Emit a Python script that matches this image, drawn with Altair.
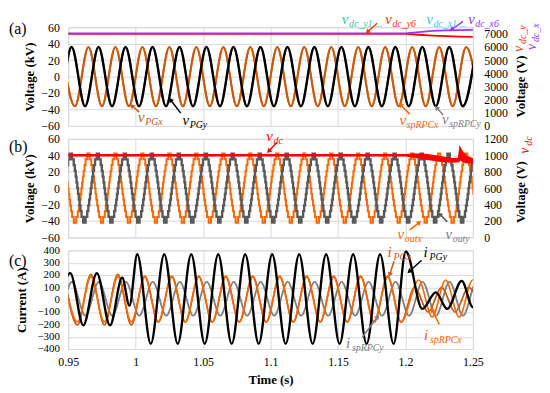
import math
import altair as alt
import pandas as pd

SERIF = "Liberation Serif"
T_START, T_END = 0.95, 1.25
X_TICKS = [0.95, 1.0, 1.05, 1.1, 1.15, 1.2, 1.25]
HALF = 0.01  # half period (50 Hz)

C_BROWN = "#c55a11"
C_ORANGE = "#ff6600"
C_GRAY = "#808080"
C_DGRAY = "#595959"
C_RED = "#ff0000"
C_RED2 = "#ff3300"
C_PURPLE = "#9933ff"
C_TEAL = "#33cc99"
C_CYAN = "#33ccff"

# ---------------- panel (a) data ----------------
VPG_PEAK, VPG_TROUGH = 36, -36
VPGX_FIRST_PEAK = 0.945
VPGY_FIRST_PEAK = 0.9325
VSP_PEAK, VSP_TROUGH = 6000, 1500          # right axis (V)
VDC_T = [0.95, 1.20, 1.21, 1.22, 1.23, 1.24, 1.25]
VDC_Y = [6990, 6990, 6930, 6870, 6820, 6790, 6770]
VDC_X = [7030, 7030, 7130, 7220, 7270, 7290, 7300]

# ---------------- panel (b) data ----------------
STEP_DEG = [0, 15.7, 38, 52, 64, 75, 85, 95, 105, 116, 128, 142, 164,
            196, 218, 232, 244, 255, 265, 275, 285, 296, 308, 322, 344]
STEP_LVL = [42, 35, 28, 21, 14, 7, 0, -7, -14, -21, -28, -35, -42,
            -35, -28, -21, -14, -7, 0, 7, 14, 21, 28, 35, 42]
VOUTX_FIRST_PEAK = 0.945
VOUTY_FIRST_PEAK = 0.932
VDCB_T = [0.95, 1.20, 1.205, 1.21, 1.215, 1.22, 1.225, 1.23, 1.235, 1.2395, 1.2405, 1.242, 1.245, 1.25]
VDCB_HI = [1004, 1004, 1008, 1010, 1005, 995, 982, 968, 955, 960, 1085, 1040, 985, 950]
VDCB_LO = [996, 996, 985, 972, 958, 945, 932, 925, 920, 925, 955, 935, 915, 905]

# ---------------- panel (c) data ----------------
IPGY_PRE = [(0.9415, -208), (0.9515, 215), (0.9612, -208), (0.9712, 215),
            (0.9810, -208), (0.9900, 179), (0.9954, -48)]
IPGY_MID = (1.0012, 1.1912, 368, -358)
IPGY_POST = [(1.2003, 392), (1.2125, -75), (1.2225, 59), (1.2310, -75),
             (1.2417, 152), (1.2500, -61), (1.2560, 40)]
IPGX_SEGS = [(0.9468, 0.9968, 205, -205), (1.0068, 1.1968, 190, -182), (1.2068, 1.2568, 100, -100)]
ISPX_SEGS = [(0.9468, 1.1968, 185, -180), (1.2098, 1.2598, 160, -141)]
ISPY_SEGS = [(0.9327, 1.2627, 145, -130)]


def alternating(first, last, pos, neg):
    n = int(round((last - first) / HALF))
    return [(round(first + k * HALF, 4), pos if k % 2 == 0 else neg) for k in range(n + 1)]


def segs(seg_list):
    pts = []
    for s in seg_list:
        pts += alternating(*s)
    return pts


def staircase(first_peak, n_cycles):
    pts = []
    for c in range(n_cycles):
        base = first_peak + c * 0.02
        for d, l in zip(STEP_DEG, STEP_LVL):
            pts.append((base + d / 360 * 0.02, l))
    return pts


def df(pts):
    return pd.DataFrame(pts, columns=["t", "v"])


XSCALE = alt.Scale(domain=[T_START, T_END], nice=False, zero=False)
AX_HIDDEN = alt.Axis(values=X_TICKS, labels=False, ticks=False, domain=False, title=None, grid=True)
AX_BOTTOM = alt.Axis(values=X_TICKS, format=".3~f", title="Time (s)", grid=True, labelFlush=False,
                     labelPadding=8, titlePadding=6)


def X(ax, field="t"):
    return alt.X(f"{field}:Q", scale=XSCALE, axis=ax)


def Y(spec, field="v"):
    return alt.Y(f"{field}:Q", scale=spec[0], axis=spec[1])


def line(data, yspec, color, width, ax, interp="monotone", field="v"):
    return alt.Chart(data).mark_line(color=color, strokeWidth=width, interpolate=interp, clip=True).encode(
        x=X(ax), y=Y(yspec, field))


def annotations(labels, arrows, yspec, ky, ax):
    lab = pd.DataFrame(labels, columns=["main", "sub", "col", "t", "v"])
    rows = []
    for col, tt, tv, ht, hv in arrows:
        dx = (ht - tt) * 410 / 0.3
        dy = -(hv - tv) * ky
        ang = math.degrees(math.atan2(dx, -dy)) % 360
        rows.append((col, tt, tv, ht, hv, ang))
    arr = pd.DataFrame(rows, columns=["col", "t", "v", "t2", "v2", "ang"])
    rule = alt.Chart(arr).mark_rule(strokeWidth=1.5).encode(
        x=X(ax), y=Y(yspec), x2="t2:Q", y2="v2:Q", color=alt.Color("col:N", scale=None))
    head = alt.Chart(arr).mark_point(shape="triangle", filled=True, size=30, opacity=1).encode(
        x=X(ax, "t2"), y=Y(yspec, "v2"),
        color=alt.Color("col:N", scale=None), angle=alt.Angle("ang:Q", scale=None))
    main = alt.Chart(lab).mark_text(font=SERIF, fontStyle="italic", fontSize=15, align="center",
                                    baseline="middle").encode(
        x=X(ax), y=Y(yspec), text="main:N", color=alt.Color("col:N", scale=None))
    sub = alt.Chart(lab).mark_text(font=SERIF, fontStyle="italic", fontSize=10, align="left",
                                   baseline="middle", dx=4, dy=5).encode(
        x=X(ax), y=Y(yspec), text="sub:N", color=alt.Color("col:N", scale=None))
    return [rule, head, main, sub]


ONE = pd.DataFrame({"a": [0]})


def ptext(txt, px, py, size, color="black", angle=0, align="center", style="normal", weight="normal"):
    return alt.Chart(ONE).mark_text(text=txt, font=SERIF, fontSize=size, color=color, angle=angle,
                                    align=align, baseline="middle", fontStyle=style,
                                    fontWeight=weight).encode(x=alt.value(px), y=alt.value(py))


# ---------------- panel (a) ----------------
YA = (alt.Scale(domain=[-60, 60], nice=False),
      alt.Axis(values=list(range(-60, 61, 20)), title="Voltage (kV)", grid=True,
               labelPadding=9, titlePadding=4))
YA_R = (alt.Scale(domain=[0, 7500], nice=False),
        alt.Axis(orient="right", values=list(range(0, 7001, 1000)), format="d", title=None, grid=False,
                 labelPadding=11))

LABELS_A = [
    ("v", "PGx", C_BROWN, 1.0041, -49.2),
    ("v", "PGy", "#000000", 1.0371, -53.4),
    ("v", "spRPCx", C_ORANGE, 1.1980, -53.4),
    ("v", "spRPCy", C_GRAY, 1.2295, -52.2),
    ("v", "dc_y1 ...", C_TEAL, 1.1552, 70.5),
    ("v", "dc_y6", C_RED2, 1.1874, 70.5),
    ("v", "dc_x1 ...", C_CYAN, 1.2178, 70.5),
    ("v", "dc_x6", C_PURPLE, 1.2489, 70.5),
]
ARROWS_A = [
    (C_BROWN, 1.0027, -43.2, 0.9976, -36),
    ("#000000", 1.0334, -44.4, 1.0261, -28.8),
    (C_ORANGE, 1.2032, -45.6, 1.1966, -34.8),
    (C_GRAY, 1.2280, -46.8, 1.2234, -38.4),
    (C_RED2, 1.1790, 64.8, 1.1722, 54.8),
    (C_PURPLE, 1.2427, 67.2, 1.2346, 57.6),
]

a_right = alt.layer(
    line(df(alternating(VPGX_FIRST_PEAK, 1.255, VSP_PEAK, VSP_TROUGH)), YA_R, C_ORANGE, 2, AX_HIDDEN),
    line(df(alternating(VPGY_FIRST_PEAK, 1.2525, VSP_PEAK, VSP_TROUGH)), YA_R, C_GRAY, 2, AX_HIDDEN),
    line(df(list(zip(VDC_T, VDC_Y))), YA_R, C_RED, 1.8, AX_HIDDEN, "linear"),
    line(df(list(zip(VDC_T, VDC_X))), YA_R, C_PURPLE, 1.8, AX_HIDDEN, "linear"),
)
a_left = alt.layer(
    line(df(alternating(VPGX_FIRST_PEAK, 1.255, VPG_PEAK, VPG_TROUGH)), YA, C_BROWN, 2, AX_HIDDEN),
    line(df(alternating(VPGY_FIRST_PEAK, 1.2525, VPG_PEAK, VPG_TROUGH)), YA, "#000000", 2.4, AX_HIDDEN),
    *annotations(LABELS_A, ARROWS_A, YA, 100 / 120, AX_HIDDEN),
    ptext("(a)", -60, 2, 16, align="left"),
    ptext("Voltage (V)", 459, 60, 13, angle=270, weight="bold"),
    ptext("v", 457, 22, 14, C_RED2, angle=270, style="italic"),
    ptext("dc_y", 461, 17, 10, C_RED2, angle=270, align="left", style="italic"),
    ptext("v", 470, 20, 14, C_PURPLE, angle=270, style="italic"),
    ptext("dc_x", 474, 15, 10, C_PURPLE, angle=270, align="left", style="italic"),
)
panel_a = alt.layer(a_right, a_left).resolve_scale(y="independent").properties(width=410, height=100)

# ---------------- panel (b) ----------------
YB = (alt.Scale(domain=[-60, 60], nice=False),
      alt.Axis(values=list(range(-60, 61, 20)), title="Voltage (kV)", grid=True,
               labelPadding=9, titlePadding=4))
YB_R = (alt.Scale(domain=[0, 1200], nice=False),
        alt.Axis(orient="right", values=list(range(0, 1201, 200)), format="d", title=None, grid=False,
                 labelPadding=11))
LABELS_B = [
    ("v", "dc", C_RED, 1.0993, 63),
    ("v", "outx", C_ORANGE, 1.1966, -55.7),
    ("v", "outy", C_GRAY, 1.2321, -56.3),
]
ARROWS_B = [
    (C_RED, 1.1048, 55.7, 1.0990, 45.5),
    (C_ORANGE, 1.2032, -50.8, 1.2099, -42.2),
    (C_DGRAY, 1.2310, -41.0, 1.2258, -32.4),
]
vdc_b = pd.DataFrame({"t": VDCB_T, "v": VDCB_LO, "v2": VDCB_HI})
b_left = alt.layer(
    line(df(staircase(VOUTX_FIRST_PEAK, 16)), YB, C_ORANGE, 2, AX_HIDDEN, "step-after"),
    line(df(staircase(VOUTY_FIRST_PEAK, 16)), YB, C_DGRAY, 2.4, AX_HIDDEN, "step-after"),
    *annotations(LABELS_B, ARROWS_B, YB, 100 / 120, AX_HIDDEN),
    ptext("(b)", -60, 8, 16, align="left"),
    ptext("Voltage (V)", 459, 54, 13, angle=270, weight="bold"),
    ptext("v", 463, 12, 14, C_RED, angle=270, style="italic"),
    ptext("dc", 467, 7, 10, C_RED, angle=270, align="left", style="italic"),
)
b_right = alt.layer(
    alt.Chart(vdc_b).mark_area(color=C_RED, clip=True, opacity=1).encode(
        x=X(AX_HIDDEN), y=Y(YB_R), y2="v2:Q"),
    line(vdc_b, YB_R, C_RED, 2, AX_HIDDEN, "linear"),
    line(vdc_b, YB_R, C_RED, 2, AX_HIDDEN, "linear", field="v2"),
)
panel_b = alt.layer(b_left, b_right).resolve_scale(y="independent").properties(width=410, height=100)

# ---------------- panel (c) ----------------
YC = (alt.Scale(domain=[-400, 400], nice=False),
      alt.Axis(values=list(range(-400, 401, 100)), title="Current (A)", grid=True,
               labelFontSize=11, labelPadding=9, titlePadding=9))
LABELS_C = [
    ("i", "PGx", C_BROWN, 1.1882, 384),
    ("i", "PGy", "#000000", 1.2149, 384),
    ("i", "spRPCx", C_ORANGE, 1.2152, -288),
    ("i", "spRPCy", C_GRAY, 1.1574, -352),
]
ARROWS_C = [
    (C_BROWN, 1.1915, 312, 1.1885, 208),
    ("#000000", 1.2120, 320, 1.2032, 232),
    (C_ORANGE, 1.2251, -200, 1.2200, -88),
    (C_GRAY, 1.1680, -304, 1.1790, -144),
]
ipgy = IPGY_PRE + alternating(*IPGY_MID) + IPGY_POST
panel_c = alt.layer(
    line(df(segs(ISPY_SEGS)), YC, C_GRAY, 1.8, AX_BOTTOM),
    line(df(segs(IPGX_SEGS)), YC, C_BROWN, 1.8, AX_BOTTOM),
    line(df(segs(ISPX_SEGS)), YC, C_ORANGE, 1.6, AX_BOTTOM),
    line(df(ipgy), YC, "#000000", 2.4, AX_BOTTOM),
    *annotations(LABELS_C, ARROWS_C, YC, 100 / 800, AX_BOTTOM),
    ptext("(c)", -60, 11, 16, align="left"),
).properties(width=410, height=100)

chart = alt.vconcat(panel_a, panel_b, panel_c, spacing=13, bounds="flush").properties(
    padding=0
).configure_axis(
    labelFont=SERIF, labelFontSize=12, labelColor="#000000",
    titleFont=SERIF, titleFontSize=13, titleFontWeight="bold", titleColor="#000000",
    gridColor="#d9d9d9", gridWidth=1, domain=False, ticks=False,
).configure_view(stroke="#d9d9d9", strokeWidth=1)

chart.save("out.html", embed_options={"renderer": "svg", "actions": False})
